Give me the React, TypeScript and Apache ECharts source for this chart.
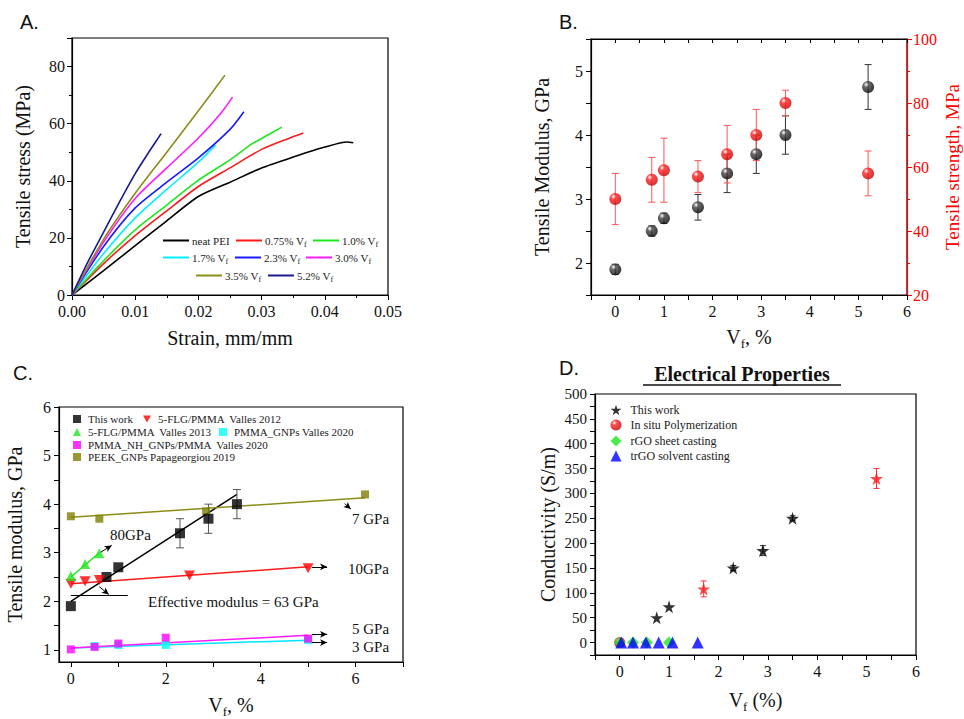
import React, { useEffect, useRef } from 'react';
import * as echarts from 'echarts';

const SERIF = '"Liberation Serif", "Times New Roman", serif';
const SANS = '"Liberation Sans", Arial, sans-serif';

// ---------- Panel A: stress-strain curves ----------
const curveNames = ['neat PEI', '0.75% Vf', '1.0% Vf', '1.7% Vf', '2.3% Vf', '3.0% Vf', '3.5% Vf', '5.2% Vf'];
const curveColors = ['#000000', '#ff1a1a', '#1ee61e', '#00f0ff', '#1a1aff', '#ff1aff', '#8c8c1a', '#1a1a8c'];
const curveNeat = [[0, 0], [0.005, 8.5], [0.01, 17.3], [0.015, 26], [0.02, 34.5], [0.025, 39.5], [0.03, 44.5], [0.035, 48.3], [0.04, 51.8], [0.0435, 53.6], [0.0445, 53.3]];
const curve075 = [[0, 0], [0.005, 11], [0.01, 20.8], [0.015, 29.5], [0.02, 38], [0.025, 44.5], [0.03, 51], [0.0345, 55], [0.0366, 56.7]];
const curve10 = [[0, 0], [0.005, 12], [0.01, 22.8], [0.015, 31.5], [0.02, 40.2], [0.025, 47.3], [0.0285, 53], [0.03, 54.8], [0.0332, 58.8]];
const curve17 = [[0, 0], [0.005, 14.5], [0.01, 27], [0.015, 37], [0.02, 46.5], [0.0227, 52.5]];
const curve23 = [[0, 0], [0.005, 17], [0.01, 30.5], [0.015, 39.5], [0.02, 48], [0.025, 58], [0.0272, 64.2]];
const curve30 = [[0, 0], [0.005, 18.5], [0.01, 33.8], [0.015, 44.5], [0.02, 55], [0.0235, 63.5], [0.0254, 69.3]];
const curve35 = [[0, 0], [0.005, 19.5], [0.01, 35.6], [0.015, 50], [0.02, 64.5], [0.0242, 77]];
const curve52 = [[0, 0], [0.0025, 11.5], [0.005, 22], [0.0075, 32.5], [0.01, 42.5], [0.012, 49.5], [0.0141, 56.5]];
const curvesA = [curveNeat, curve075, curve10, curve17, curve23, curve30, curve35, curve52];
const legendPosA = [[163, 242], [236, 242], [313, 242], [163, 259], [235, 259], [306, 259], [196, 277], [268, 277]];

// ---------- Panel B: modulus & strength ----------
const vfB = [0, 0.75, 1.0, 1.7, 2.3, 2.9, 3.5, 5.2];
const modulusB = [1.9, 2.5, 2.7, 2.87, 3.4, 3.7, 4.0, 4.75];
const modulusErrB = [0.08, 0.08, 0.08, 0.2, 0.3, 0.3, 0.3, 0.35];
const strengthB = [50, 56, 59, 57, 64, 70, 80, 58];
const strengthErrB = [8, 7, 10, 5, 9, 8, 4, 7];

// ---------- Panel C: literature comparison ----------
const thisWorkVfC = [0, 0.75, 1.0, 2.3, 2.9, 3.5];
const thisWorkModC = [1.9, 2.5, 2.7, 3.4, 3.7, 4.0];
const thisWorkErrC = [0, 0, 0, 0.3, 0.3, 0.3];
const valles2012Vf = [0, 0.3, 0.6, 2.5, 5.0];
const valles2012Mod = [2.36, 2.41, 2.44, 2.53, 2.68];
const valles2013Vf = [0, 0.3, 0.6];
const valles2013Mod = [2.52, 2.77, 2.99];
const gnps2020Vf = [0.5, 1.0, 2.0, 5.0];
const gnps2020Mod = [1.08, 1.1, 1.1, 1.2];
const nh2020Vf = [0, 0.5, 1.0, 2.0, 5.0];
const nh2020Mod = [1.01, 1.06, 1.13, 1.25, 1.23];
const peekVf = [0, 0.6, 2.85, 6.2];
const peekMod = [3.75, 3.7, 3.85, 4.2];
const fitThisWork = [[0, 2.0], [3.5, 4.2]];
const fitValles2012 = [[0, 2.36], [5, 2.71]];
const fitValles2013 = [[0, 2.5], [0.6, 3.0]];
const fitGnps2020 = [[0, 1.04], [5, 1.2]];
const fitNh2020 = [[0, 1.04], [5, 1.3]];
const fitPeek = [[0, 3.73], [6.2, 4.13]];
const arrow80 = [[0.63, 3.01], [0.86, 3.15]];
const arrow7 = [[5.77, 4.01], [5.9, 3.9]];
const arrow10 = [[5.08, 2.71], [5.4, 2.71]];
const arrow5 = [[5.08, 1.32], [5.4, 1.32]];
const arrow3 = [[5.08, 1.15], [5.4, 1.15]];
const refLineEff = [[0, 2.12], [1.2, 2.12]];
const arrowEff = [[0.6, 2.3], [0.8, 2.14]];
const xTicksC = [0, 1, 2, 3, 4, 5, 6, 7];
const xLabelsC = [0, 2, 4, 6];
const yTicksC = [1, 1.5, 2, 2.5, 3, 3.5, 4, 4.5, 5, 5.5, 6];
const yLabelsC = [1, 2, 3, 4, 5, 6];
const legendNamesC = ['This work', '5-FLG/PMMA  Valles 2012', '5-FLG/PMMA  Valles 2013', 'PMMA_GNPs Valles 2020', 'PMMA_NH_GNPs/PMMA  Valles 2020', 'PEEK_GNPs Papageorgiou 2019'];
const legendPosC = [[77, 419], [147, 419], [77, 432], [223, 432], [77, 445], [77, 457]];

// ---------- Panel D: conductivity ----------
const thisWorkVfD = [0.75, 1.0, 2.3, 2.9, 3.5];
const condD = [50, 72, 150, 185, 250];
const condErrD = [0, 0, 5, 10, 5];
const redVfD = [1.7, 5.2];
const redCondD = [108, 330];
const redErrD = [16, 20];
const inSituVf = [0];
const inSituCond = [0];
const rgoVf = [0, 0.27, 0.55, 1.0];
const rgoCond = [0, 0, 0, 0];
const trgoVf = [0.03, 0.27, 0.53, 0.79, 1.07, 1.58];
const trgoCond = [0, 0, 0, 0, 0, 0];
const legendNamesD = ['This work ', 'In situ Polymerization', 'rGO sheet casting', 'trGO solvent casting'];
const legendPosD = [[616, 410], [616, 425], [616, 441], [616, 456]];

const STAR = 'path://M50,0 L61,35 L98,35 L68,57 L79,91 L50,70 L21,91 L32,57 L2,35 L39,35 Z';
const DOWN_TRI = 'path://M0,0 L10,0 L5,9 Z';

const zip = (xs: number[], ys: number[]) => xs.map((x, i) => [x, ys[i]]);
const zip3 = (xs: number[], ys: number[], es: number[]) => xs.map((x, i) => [x, ys[i], es[i]]).filter((d) => d[2] > 0);
const isInt = (v: number) => Math.abs(v - Math.round(v)) < 1e-9;

const ball = (mid: string, dark: string) =>
  new echarts.graphic.RadialGradient(0.35, 0.3, 0.75, [
    { offset: 0, color: '#ffffff' },
    { offset: 0.3, color: mid },
    { offset: 1, color: dark },
  ]);

const richName = (color: string, size = 20) => ({
  a: { fontFamily: SERIF, fontSize: size, color },
  s: { fontFamily: SERIF, fontSize: 13, color, verticalAlign: 'bottom', lineHeight: 26 },
});

const baseAxis = (extra: any) => ({
  type: 'value',
  splitLine: { show: false },
  axisLine: { show: true, onZero: false, lineStyle: { color: '#000', width: 1.2 } },
  axisTick: { show: true, length: 5, lineStyle: { color: '#000', width: 1 } },
  axisLabel: { fontFamily: SERIF, fontSize: 16, color: '#111', margin: 7 },
  nameLocation: 'middle',
  nameTextStyle: { fontFamily: SERIF, fontSize: 20, color: '#111', rich: richName('#111') },
  ...extra,
});

const errorBars = (data: number[][], color: string, xi: number, yi: number, cap: number) => ({
  type: 'custom',
  xAxisIndex: xi,
  yAxisIndex: yi,
  data,
  silent: true,
  encode: { x: 0, y: 1 },
  renderItem: (_p: any, api: any) => {
    const x = api.value(0);
    const y = api.value(1);
    const e = api.value(2);
    const hi = api.coord([x, y + e]);
    const lo = api.coord([x, y - e]);
    const st = { stroke: color, lineWidth: 1 };
    return {
      type: 'group',
      children: [
        { type: 'line', shape: { x1: hi[0], y1: hi[1], x2: lo[0], y2: lo[1] }, style: st },
        { type: 'line', shape: { x1: hi[0] - cap, y1: hi[1], x2: hi[0] + cap, y2: hi[1] }, style: st },
        { type: 'line', shape: { x1: lo[0] - cap, y1: lo[1], x2: lo[0] + cap, y2: lo[1] }, style: st },
      ],
    };
  },
});

const arrowLine = (pts: number[][]) => [{ coord: pts[0] }, { coord: pts[1] }];
const plainLine = (pts: number[][]) => [
  { coord: pts[0], symbol: 'none' },
  { coord: pts[1], symbol: 'none' },
];
const markLines = (items: any[]) => ({
  silent: true,
  symbol: ['none', 'arrow'],
  symbolSize: [5, 7],
  lineStyle: { color: '#000', width: 1, type: 'solid' },
  label: { show: false },
  emphasis: { disabled: true },
  data: items,
});

const fitLine = (name: string, data: number[][], color: string, ml?: any) => ({
  type: 'line',
  name,
  xAxisIndex: 3,
  yAxisIndex: 3,
  data,
  symbol: 'none',
  lineStyle: { color, width: 1.5 },
  itemStyle: { color },
  z: 1,
  ...(ml ? { markLine: ml } : {}),
});

const txt = (text: string, x: number, y: number, font: string, align = 'left') => ({
  type: 'text',
  x,
  y,
  style: {
    text,
    font,
    fill: '#111',
    align,
    textAlign: align,
    verticalAlign: 'middle',
    textVerticalAlign: 'middle',
  },
});

function buildOption(): any {
  const legendA = curveNames.map((n, i) => ({
    data: [n],
    left: legendPosA[i][0],
    top: legendPosA[i][1] - 7,
    padding: 0,
    selectedMode: false,
    icon: 'rect',
    itemWidth: 26,
    itemHeight: 2,
    formatter: (name: string) => (name.endsWith(' Vf') ? `{t|${name.slice(0, -1)}}{s|f}` : `{t|${name}}`),
    textStyle: {
      fontFamily: SERIF,
      fontSize: 11,
      color: '#222',
      padding: [0, 0, 0, -2],
      rich: {
        t: { fontFamily: SERIF, fontSize: 11, color: '#222' },
        s: { fontFamily: SERIF, fontSize: 8, color: '#222', verticalAlign: 'bottom', lineHeight: 15 },
      },
    },
  }));
  const legendC = legendNamesC.map((n, i) => ({
    data: [n],
    left: legendPosC[i][0] - 4,
    top: legendPosC[i][1] - 6,
    padding: 0,
    selectedMode: false,
    itemWidth: 8,
    itemHeight: 8,
    textStyle: { fontFamily: SERIF, fontSize: 11, color: '#222', lineHeight: 12, padding: [0, 0, 0, 2] },
  }));
  const legendD = legendNamesD.map((n, i) => ({
    data: [n],
    left: legendPosD[i][0] - 5.5,
    top: legendPosD[i][1] - 7,
    padding: 0,
    selectedMode: false,
    itemWidth: 11,
    itemHeight: 11,
    textStyle: { fontFamily: SERIF, fontSize: 12, color: '#222', lineHeight: 14, padding: [0, 0, 0, 4] },
  }));

  const intLabel = (v: number) => (isInt(v) ? String(Math.round(v)) : '');

  return {
    animation: false,
    backgroundColor: '#ffffff',
    grid: [
      { left: 72, top: 38, width: 316, height: 257 },
      { left: 591, top: 39, width: 316, height: 256 },
      { left: 59, top: 407, width: 344, height: 255 },
      { left: 595, top: 394, width: 321, height: 261 },
    ].map((g) => ({ ...g, show: true, borderColor: '#000', borderWidth: 1.2, backgroundColor: 'transparent', containLabel: false, outerBoundsMode: 'none' })),
    legend: [...legendA, ...legendC, ...legendD],
    xAxis: [
      baseAxis({
        gridIndex: 0, min: 0, max: 0.05, interval: 0.01,
        minorTick: { show: true, splitNumber: 2, length: 3, lineStyle: { color: '#000' } },
        axisLabel: { fontFamily: SERIF, fontSize: 16, color: '#111', margin: 8, formatter: (v: number) => v.toFixed(2) },
        name: 'Strain, mm/mm', nameGap: 33,
      }),
      baseAxis({
        gridIndex: 1, min: -0.5, max: 6, interval: 0.5,
        axisLabel: { fontFamily: SERIF, fontSize: 16, color: '#111', margin: 8, formatter: intLabel },
        name: '{a|V}{s|f}{a|, %}', nameGap: 29,
      }),
      baseAxis({
        gridIndex: 1, position: 'top', min: -0.5, max: 6, interval: 0.5,
        axisTick: { show: true, inside: true, length: 4, lineStyle: { color: '#000' } },
        axisLabel: { show: false },
      }),
      baseAxis({
        gridIndex: 2, min: -0.25, max: 7,
        axisTick: { show: true, length: 5, customValues: xTicksC, lineStyle: { color: '#000' } },
        axisLabel: { fontFamily: SERIF, fontSize: 16, color: '#111', margin: 8, customValues: xLabelsC },
        name: '{a|V}{s|f}{a|, %}', nameGap: 30,
      }),
      baseAxis({
        gridIndex: 3, min: -0.5, max: 6, interval: 0.5,
        axisLabel: { fontFamily: SERIF, fontSize: 16, color: '#111', margin: 8, formatter: intLabel },
        name: '{a|V}{s|f}{a| (%)}', nameGap: 32,
      }),
    ],
    yAxis: [
      baseAxis({
        gridIndex: 0, min: 0, max: 90, interval: 20,
        minorTick: { show: true, splitNumber: 2, length: 3, lineStyle: { color: '#000' } },
        axisLabel: { fontFamily: SERIF, fontSize: 16, color: '#111', margin: 7, formatter: (v: number) => (v > 85 ? '' : String(v)) },
        name: 'Tensile stress (MPa)', nameGap: 39,
      }),
      baseAxis({
        gridIndex: 1, min: 1.5, max: 5.5, interval: 0.5,
        axisLabel: { fontFamily: SERIF, fontSize: 16, color: '#111', margin: 8, formatter: intLabel },
        name: 'Tensile Modulus, GPa', nameGap: 39,
      }),
      baseAxis({
        gridIndex: 1, position: 'right', min: 20, max: 100, interval: 20,
        axisLine: { show: true, onZero: false, lineStyle: { color: '#ff0000', width: 1.2 } },
        axisTick: { show: true, length: 5, lineStyle: { color: '#ff0000' } },
        minorTick: { show: true, splitNumber: 2, length: 3, lineStyle: { color: '#ff0000' } },
        axisLabel: { fontFamily: SERIF, fontSize: 16, color: '#ff0000', margin: 6 },
        name: 'Tensile strength, MPa', nameGap: 36,
        nameTextStyle: { fontFamily: SERIF, fontSize: 19, color: '#ff0000', rich: richName('#ff0000', 19) },
      }),
      baseAxis({
        gridIndex: 2, min: 0.75, max: 6,
        axisTick: { show: true, length: 5, customValues: yTicksC, lineStyle: { color: '#000' } },
        axisLabel: { fontFamily: SERIF, fontSize: 16, color: '#111', margin: 8, customValues: yLabelsC },
        name: 'Tensile modulus, GPa', nameGap: 34,
      }),
      baseAxis({
        gridIndex: 3, min: -25, max: 500, interval: 25,
        axisLabel: { fontFamily: SERIF, fontSize: 15, color: '#111', margin: 8, formatter: (v: number) => (v >= 0 && v % 50 === 0 ? String(v) : '') },
        name: 'Conductivity (S/m)', nameGap: 37,
      }),
    ],
    series: [
      // Panel A
      ...curvesA.map((d, i) => ({
        type: 'line',
        name: curveNames[i],
        xAxisIndex: 0,
        yAxisIndex: 0,
        data: d,
        symbol: 'none',
        showSymbol: false,
        smooth: 0.25,
        lineStyle: { color: curveColors[i], width: 1.6 },
        itemStyle: { color: curveColors[i] },
      })),
      // Panel B
      errorBars(zip3(vfB, modulusB, modulusErrB), '#333333', 1, 1, 3.5),
      errorBars(zip3(vfB, strengthB, strengthErrB), '#ff5555', 1, 2, 3.5),
      {
        type: 'scatter', name: 'Tensile modulus', xAxisIndex: 1, yAxisIndex: 1,
        data: zip(vfB, modulusB), symbolSize: 12, itemStyle: { color: ball('#444444', '#000000') },
      },
      {
        type: 'scatter', name: 'Tensile strength', xAxisIndex: 1, yAxisIndex: 2,
        data: zip(vfB, strengthB), symbolSize: 12, itemStyle: { color: ball('#ff2020', '#c00000') },
      },
      // Panel C fits + annotations
      fitLine('fit this work', fitThisWork, '#000000', markLines([plainLine(refLineEff), arrowLine(arrowEff)])),
      fitLine('fit Valles 2012', fitValles2012, '#ff1a1a', markLines([arrowLine(arrow10)])),
      fitLine('fit Valles 2013', fitValles2013, '#1ee61e', markLines([arrowLine(arrow80)])),
      fitLine('fit GNPs 2020', fitGnps2020, '#00e5ff', markLines([arrowLine(arrow3)])),
      fitLine('fit NH 2020', fitNh2020, '#ff1aff', markLines([arrowLine(arrow5)])),
      fitLine('fit PEEK', fitPeek, '#8c8c1a', markLines([arrowLine(arrow7)])),
      errorBars(zip3(thisWorkVfC, thisWorkModC, thisWorkErrC), '#555555', 3, 3, 4),
      {
        type: 'scatter', name: legendNamesC[5], xAxisIndex: 3, yAxisIndex: 3,
        data: zip(peekVf, peekMod), symbol: 'rect', symbolSize: 8, itemStyle: { color: '#808000' },
      },
      {
        type: 'scatter', name: legendNamesC[0], xAxisIndex: 3, yAxisIndex: 3,
        data: zip(thisWorkVfC, thisWorkModC), symbol: 'rect', symbolSize: 10, itemStyle: { color: '#000000' },
      },
      {
        type: 'scatter', name: legendNamesC[1], xAxisIndex: 3, yAxisIndex: 3,
        data: zip(valles2012Vf, valles2012Mod), symbol: DOWN_TRI, symbolSize: [11, 10], itemStyle: { color: '#ff0000' },
      },
      {
        type: 'scatter', name: legendNamesC[2], xAxisIndex: 3, yAxisIndex: 3,
        data: zip(valles2013Vf, valles2013Mod), symbol: 'triangle', symbolSize: 10, itemStyle: { color: '#1ee61e' },
      },
      {
        type: 'scatter', name: legendNamesC[3], xAxisIndex: 3, yAxisIndex: 3,
        data: zip(gnps2020Vf, gnps2020Mod), symbol: 'rect', symbolSize: 8, itemStyle: { color: '#00ffff' },
      },
      {
        type: 'scatter', name: legendNamesC[4], xAxisIndex: 3, yAxisIndex: 3,
        data: zip(nh2020Vf, nh2020Mod), symbol: 'rect', symbolSize: 8, itemStyle: { color: '#ff00ff' },
      },
      // Panel D
      {
        type: 'scatter', name: legendNamesD[1], xAxisIndex: 4, yAxisIndex: 4,
        data: zip(inSituVf, inSituCond), symbol: 'circle', symbolSize: 11, itemStyle: { color: ball('#ff2020', '#c00000') },
      },
      {
        type: 'scatter', name: legendNamesD[2], xAxisIndex: 4, yAxisIndex: 4,
        data: zip(rgoVf, rgoCond), symbol: 'diamond', symbolSize: 12, itemStyle: { color: '#1ee61e' },
      },
      {
        type: 'scatter', name: legendNamesD[3], xAxisIndex: 4, yAxisIndex: 4,
        data: zip(trgoVf, trgoCond), symbol: 'triangle', symbolSize: 12, itemStyle: { color: '#0000ff' },
      },
      errorBars(zip3(thisWorkVfD, condD, condErrD), '#333333', 4, 4, 3),
      errorBars(zip3(redVfD, redCondD, redErrD), '#ff3333', 4, 4, 3),
      {
        type: 'scatter', name: legendNamesD[0], xAxisIndex: 4, yAxisIndex: 4,
        data: zip(thisWorkVfD, condD), symbol: STAR, symbolSize: 13, itemStyle: { color: '#000000' },
      },
      {
        type: 'scatter', name: 'This work (red)', xAxisIndex: 4, yAxisIndex: 4,
        data: zip(redVfD, redCondD), symbol: STAR, symbolSize: 13, itemStyle: { color: '#ff1a1a' },
      },
    ],
    graphic: [
      txt('A.', 20, 22, `20px ${SANS}`),
      txt('B.', 559, 22, `20px ${SANS}`),
      txt('C.', 13, 373, `20px ${SANS}`),
      txt('D.', 559, 368, `20px ${SANS}`),
      txt('Electrical Properties', 742, 374, `bold 20px ${SERIF}`, 'center'),
      { type: 'line', shape: { x1: 643, y1: 385, x2: 841, y2: 385 }, style: { stroke: '#111', lineWidth: 1.5 } },
      txt('80GPa', 110, 535, `15px ${SERIF}`),
      txt('7 GPa', 352, 519, `15px ${SERIF}`),
      txt('10GPa', 348, 569, `15px ${SERIF}`),
      txt('Effective modulus = 63 GPa', 148, 602, `15px ${SERIF}`),
      txt('5 GPa', 352, 629, `15px ${SERIF}`),
      txt('3 GPa', 352, 647, `15px ${SERIF}`),
    ],
  };
}

export default function App() {
  const ref = useRef<HTMLDivElement>(null);
  useEffect(() => {
    if (!ref.current) return;
    const chart = echarts.init(ref.current, undefined, { renderer: 'svg' });
    chart.setOption(buildOption());
    return () => chart.dispose();
  }, []);
  return (
    <div
      ref={ref}
      style={{ position: 'absolute', left: 0, top: 0, width: 964, height: 719, background: '#fff' }}
    />
  );
}
